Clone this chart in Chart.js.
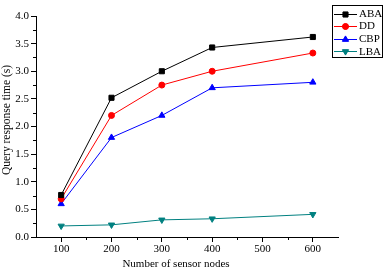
<!DOCTYPE html>
<html><head><meta charset="utf-8">
<script src="https://cdn.jsdelivr.net/npm/chart.js@4"></script>
<style>html,body{margin:0;padding:0;background:#fff}#wrap{width:386px;height:270px}</style>
</head><body><div id="wrap"><canvas id="c" width="386" height="270"></canvas></div>
<script>
const nodes = [100, 200, 300, 400, 600];
const aba = [0.76, 2.52, 3.0, 3.43, 3.62];
const dd = [0.69, 2.2, 2.75, 3.0, 3.33];
const cbp = [0.6, 1.8, 2.2, 2.7, 2.8];
const lba = [0.2, 0.22, 0.31, 0.33, 0.41];
const seriesNames = ['ABA', 'DD', 'CBP', 'LBA'];
const xTitle = 'Number of sensor nodes';
const yTitle = 'Query response time (s)';

const FONT = "'Liberation Serif', 'Times New Roman', serif";
function pts(vals){ return nodes.map((n,i)=>({x:n,y:vals[i]})); }
const styles = [
  {c:'#000000', ps:'rect', r:3.6, rot:0},
  {c:'#ff0000', ps:'circle', r:3, rot:0},
  {c:'#0000ff', ps:'triangle', r:3.6, rot:0},
  {c:'#008080', ps:'triangle', r:3.6, rot:180}
];
const all = [aba, dd, cbp, lba];
const datasets = all.map((v,i)=>({
  label: seriesNames[i], data: pts(v),
  borderColor: styles[i].c, backgroundColor: styles[i].c,
  borderWidth: 1, pointStyle: styles[i].ps, pointRadius: styles[i].r,
  pointRotation: styles[i].rot, pointBorderWidth: 1, tension: 0
}));

const extras = {
  id:'extras',
  afterDraw(chart){
    const ctx = chart.ctx, xs = chart.scales.x, ys = chart.scales.y;
    ctx.save(); ctx.strokeStyle='#000'; ctx.lineWidth=1;
    ctx.beginPath();
    for (let v=150; v<650; v+=100){ const px=Math.round(xs.getPixelForValue(v))+0.5; ctx.moveTo(px, xs.top); ctx.lineTo(px, xs.top+3); }
    for (let v=0.25; v<4; v+=0.5){ const py=Math.round(ys.getPixelForValue(v))+0.5; ctx.moveTo(ys.right, py); ctx.lineTo(ys.right-3, py); }
    ctx.stroke();
    // axis titles
    ctx.fillStyle='#000'; ctx.textAlign='center'; ctx.textBaseline='middle';
    ctx.font = '11px ' + FONT;
    ctx.fillText(xTitle, 176, 264);
    ctx.save(); ctx.translate(7, 120); ctx.rotate(-Math.PI/2);
    ctx.font = '11.5px ' + FONT;
    ctx.fillText(yTitle, 0, 0);
    ctx.restore();
    // legend
    const bx=332, by=5, bw=50, bh=52;
    ctx.strokeStyle='#000';
    ctx.strokeRect(bx+0.5, by+0.5, bw, bh);
    ctx.font = '11px ' + FONT; ctx.textAlign='left'; ctx.textBaseline='middle';
    chart.data.datasets.forEach((ds,i)=>{
      const y = by + 8.5 + i*12.6;
      ctx.strokeStyle = ds.borderColor; ctx.lineWidth=1;
      ctx.beginPath(); ctx.moveTo(bx+2, Math.round(y)+0.5); ctx.lineTo(bx+25, Math.round(y)+0.5); ctx.stroke();
      ctx.fillStyle = ds.backgroundColor;
      Chart.helpers.drawPoint(ctx, {pointStyle: ds.pointStyle, radius: ds.pointRadius, rotation: ds.pointRotation, borderWidth:1}, bx+13.5, Math.round(y)+0.5);
      ctx.fill();
      ctx.fillStyle='#000';
      ctx.fillText(ds.label, bx+27, y+0.5);
    });
    ctx.restore();
  }
};

new Chart(document.getElementById('c'), {
  type:'line',
  data:{datasets},
  plugins:[extras],
  options:{
    responsive:false, animation:false,
    layout:{padding:{top:16, right:48, bottom:0, left:0}},
    plugins:{legend:{display:false}, tooltip:{enabled:false}},
    scales:{
      x:{type:'linear', min:50, max:650,
        afterBuildTicks(s){ s.ticks=[100,200,300,400,500,600].map(v=>({value:v})); },
        afterFit(s){ s.height=33; },
        border:{color:'#000', width:1},
        grid:{drawOnChartArea:false, drawTicks:true, tickLength:5, color:'#000'},
        ticks:{color:'#000', font:{family:FONT, size:11}, padding:1, maxRotation:0}
      },
      y:{min:0, max:4,
        afterBuildTicks(s){ s.ticks=[0,0.5,1,1.5,2,2.5,3,3.5,4].map(v=>({value:v})); },
        afterFit(s){ s.width=36; },
        border:{color:'#000', width:1},
        grid:{drawOnChartArea:false, drawTicks:true, tickLength:5, color:'#000'},
        ticks:{color:'#000', font:{family:FONT, size:11}, padding:2, callback:v=>v.toFixed(1)}
      }
    }
  }
});
</script></body></html>
